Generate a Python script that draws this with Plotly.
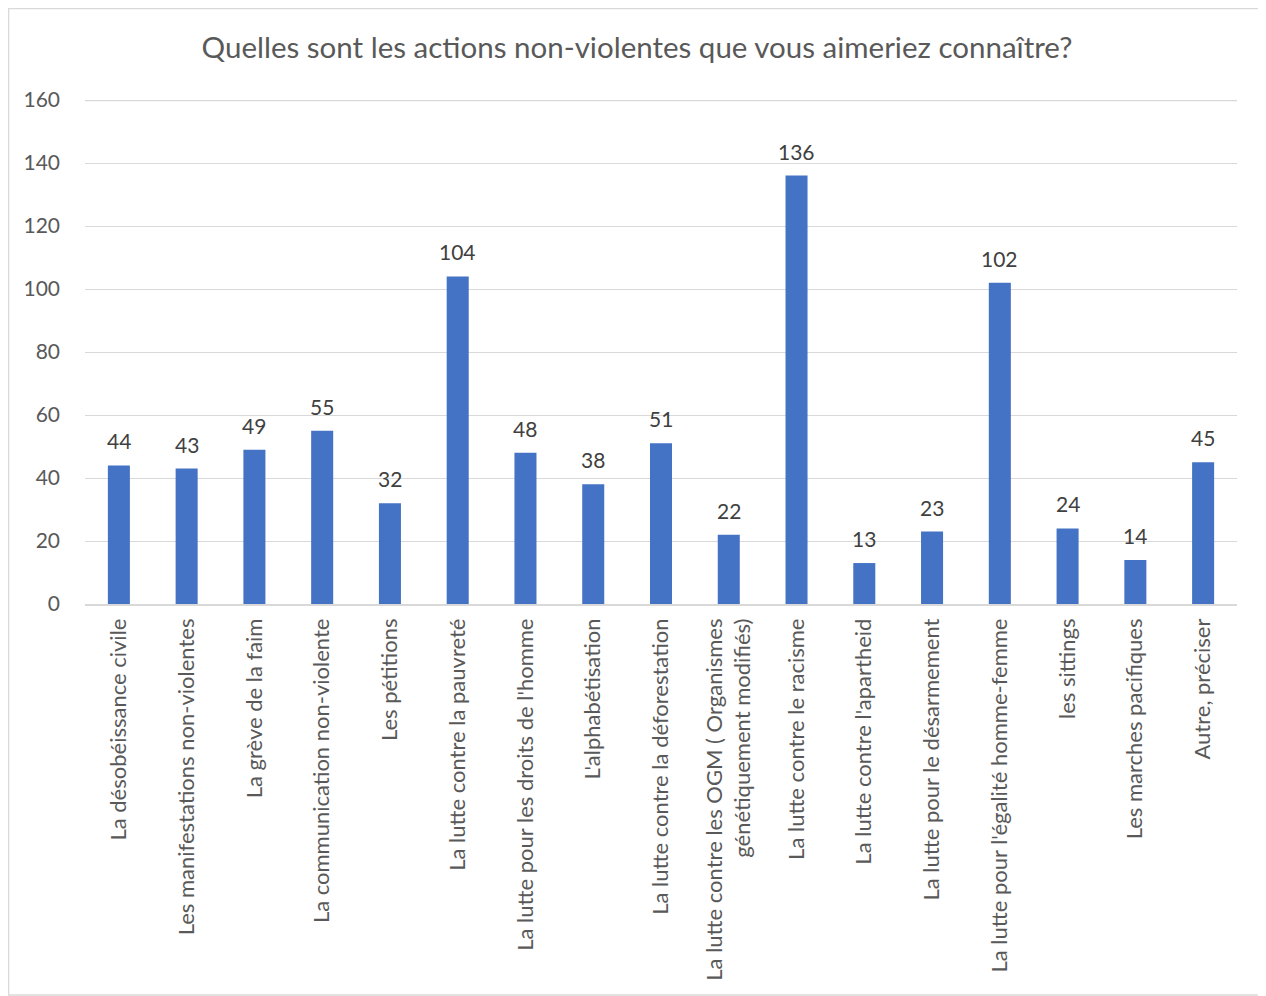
import plotly.graph_objects as go

categories = [
    "La désobéissance civile",
    "Les manifestations non-violentes",
    "La grève de la faim",
    "La communication non-violente",
    "Les pétitions",
    "La lutte contre la pauvreté",
    "La lutte pour les droits de l'homme",
    "L'alphabétisation",
    "La lutte contre la déforestation",
    "La lutte contre les OGM ( Organismes<br>génétiquement modifiés)",
    "La lutte contre le racisme",
    "La lutte contre l'apartheid",
    "La lutte pour le désarmement",
    "La lutte pour l'égalité homme-femme",
    "les sittings",
    "Les marches pacifiques",
    "Autre, préciser",
]
values = [44, 43, 49, 55, 32, 104, 48, 38, 51, 22, 136, 13, 23, 102, 24, 14, 45]
y_ticks = [0, 20, 40, 60, 80, 100, 120, 140, 160]

font_family = "Lato, 'Open Sans', sans-serif"

trace = go.Bar(x=categories,
               y=values,
               marker=dict(color='#4472c4', line=dict(width=0)))

# data labels above the bars
labels = [dict(x=c, y=v, text=str(v), showarrow=False, yanchor='bottom', yshift=10,
               font=dict(size=21, color='#404040', family=font_family))
          for c, v in zip(categories, values)]

layout = go.Layout(
    title=dict(text='Quelles sont les actions non-violentes que vous aimeriez connaître?',
               x=0.5, xanchor='center', y=0.9595, yanchor='middle',
               font=dict(size=29.5, color='#595959', family=font_family)),
    width=1258, height=988,
    margin=dict(l=77, r=29, t=92, b=392),
    paper_bgcolor='white', plot_bgcolor='white',
    bargap=0.675,
    showlegend=False,
    annotations=labels,
    xaxis=dict(tickangle=-90, tickfont=dict(size=22, color='#595959', family=font_family),
               showline=True, linecolor='#d9d9d9', linewidth=1.5, ticks='',
               showgrid=False, ticklabelstandoff=4),
    yaxis=dict(range=[0, 160], tickvals=y_ticks, showgrid=True, gridcolor='#d9d9d9',
               gridwidth=1, zeroline=False, showline=False, ticks='',
               tickfont=dict(size=21, color='#595959', family=font_family),
               ticklabelstandoff=24),
    shapes=[dict(type='rect', xref='paper', yref='paper',
                 x0=-0.0664, x1=1.0239, y0=-0.776, y1=1.1815,
                 line=dict(color='#d9d9d9', width=1.5), fillcolor='rgba(0,0,0,0)'),
            # top gridline, which plotly leaves out at the edge of the range
            dict(type='line', xref='paper', yref='y', x0=0, x1=1,
                 y0=y_ticks[-1], y1=y_ticks[-1],
                 line=dict(color='#d9d9d9', width=2.5), layer='below')],
)

fig = go.Figure(data=[trace], layout=layout)
fig.write_html("out.html")
